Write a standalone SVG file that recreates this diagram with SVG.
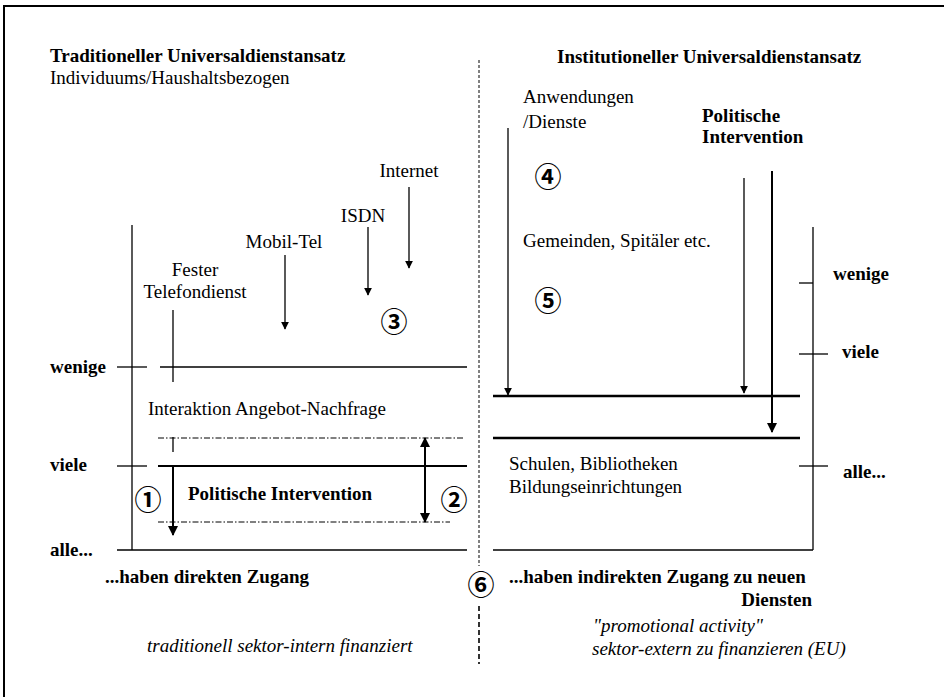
<svg xmlns="http://www.w3.org/2000/svg" width="944" height="697" viewBox="0 0 944 697">
<defs>
<marker id="ah" viewBox="0 0 10 10" refX="9" refY="5" markerWidth="8" markerHeight="8" markerUnits="userSpaceOnUse" orient="auto-start-reverse">
<path d="M0,0 L10,5 L0,10 z" fill="#000"/>
</marker>
<marker id="ahb" viewBox="0 0 10 10" refX="9" refY="5" markerWidth="10" markerHeight="10" markerUnits="userSpaceOnUse" orient="auto-start-reverse">
<path d="M0,0 L10,5 L0,10 z" fill="#000"/>
</marker>
</defs>
<style>
text{font-family:"Liberation Serif","Times New Roman",serif;font-size:19px;fill:#000}
.b{font-weight:bold}
.i{font-style:italic}
.num{font-family:"Noto Sans CJK JP","DejaVu Sans",sans-serif;font-size:27px;font-weight:bold;text-anchor:middle;dominant-baseline:central}
.ln{stroke:#000;stroke-width:1.3;fill:none}
.thick{stroke:#000;stroke-width:2.6;fill:none}
.mid{stroke:#000;stroke-width:1.8;fill:none}
.dd{stroke:#000;stroke-width:1;fill:none;stroke-dasharray:6 2 1.5 2}
.dv{stroke:#000;stroke-width:1;fill:none;stroke-dasharray:3 2}
.dv2{stroke:#000;stroke-width:1.6;fill:none;stroke-dasharray:5 3}
.arr{stroke:#000;stroke-width:1.3;fill:none;marker-end:url(#ah)}
.arrb{stroke:#000;stroke-width:2;fill:none;marker-end:url(#ahb)}
</style>
<rect width="944" height="697" fill="#fff"/>
<g id="frame">
<path class="ln" d="M4,697 V6 H944" style="stroke-width:2"/>
</g>
<g id="divider">
<line class="dv" x1="479" y1="60" x2="479" y2="566"/>
<line class="dv2" x1="479" y1="606" x2="479" y2="664"/>
</g>
<g id="titles">
<text class="b" x="50" y="62">Traditioneller Universaldienstansatz</text>
<text x="50" y="84">Individuums/Haushaltsbezogen</text>
<text class="b" x="557" y="63">Institutioneller Universaldienstansatz</text>
</g>
<g id="left-scale">
<line class="ln" x1="132" y1="225" x2="132" y2="550"/>
<line class="ln" x1="117" y1="367" x2="147" y2="367"/>
<line class="ln" x1="117" y1="466" x2="147" y2="466"/>
<line class="ln" x1="117" y1="550" x2="467" y2="550" style="stroke-width:1.6"/>
<line class="ln" x1="160" y1="367" x2="467" y2="367"/>
<line class="mid" x1="158" y1="466" x2="467" y2="466"/>
<line class="dd" x1="158" y1="438" x2="463" y2="438"/>
<line class="dd" x1="158" y1="522" x2="450" y2="522"/>
<text class="b" x="50" y="373">wenige</text>
<text class="b" x="50" y="471">viele</text>
<text class="b" x="50" y="556">alle...</text>
</g>
<g id="services-left">
<text x="409" y="177" text-anchor="middle">Internet</text>
<text x="363" y="222" text-anchor="middle">ISDN</text>
<text x="284" y="248" text-anchor="middle">Mobil-Tel</text>
<text x="195" y="276" text-anchor="middle">Fester</text>
<text x="195" y="298" text-anchor="middle">Telefondienst</text>
<text x="148" y="415">Interaktion Angebot-Nachfrage</text>
<text class="b" x="188" y="500">Politische Intervention</text>
</g>
<g id="right-scale">
<line class="ln" x1="813" y1="227" x2="813" y2="550"/>
<line class="ln" x1="799" y1="283" x2="813" y2="283"/>
<line class="ln" x1="799" y1="354" x2="828" y2="354"/>
<line class="ln" x1="799" y1="466" x2="828" y2="466"/>
<line class="thick" x1="493" y1="396" x2="800" y2="396"/>
<line class="thick" x1="493" y1="438" x2="800" y2="438"/>
<line class="ln" x1="493" y1="550" x2="813" y2="550" style="stroke-width:1.6"/>
<text class="b" x="833" y="280">wenige</text>
<text class="b" x="842" y="358">viele</text>
<text class="b" x="843" y="478">alle...</text>
</g>
<g id="services-right">
<text x="523" y="103">Anwendungen</text>
<text x="523" y="128">/Dienste</text>
<text class="b" x="702" y="122">Politische</text>
<text class="b" x="702" y="143">Intervention</text>
<text x="523" y="247">Gemeinden, Spitäler etc.</text>
<text x="509" y="470">Schulen, Bibliotheken</text>
<text x="509" y="493">Bildungseinrichtungen</text>
</g>
<g id="bottom-texts">
<text class="b" x="105" y="583">...haben direkten Zugang</text>
<text class="i" x="147" y="652">traditionell sektor-intern finanziert</text>
<text class="b" x="509" y="583">...haben indirekten Zugang zu neuen</text>
<text class="b" x="812" y="606" text-anchor="end">Diensten</text>
<text class="i" x="593" y="632">"promotional activity"</text>
<text class="i" x="592" y="655">sektor-extern zu finanzieren (EU)</text>
</g>
<g id="markers">
<text class="num" x="148" y="498">①</text>
<text class="num" x="454" y="498">②</text>
<text class="num" x="394" y="320">③</text>
<text class="num" x="548" y="175">④</text>
<text class="num" x="548" y="299">⑤</text>
<text class="num" x="481" y="583">⑥</text>
</g>
<g id="connectors">
<line class="arr" x1="409" y1="187" x2="409" y2="268"/>
<line class="arr" x1="368" y1="227" x2="368" y2="295"/>
<line class="arr" x1="285" y1="255" x2="285" y2="329"/>
<line class="ln" x1="173" y1="310" x2="173" y2="382"/>
<line class="ln" x1="173" y1="437" x2="173" y2="452"/>
<line class="arrb" x1="173" y1="466" x2="173" y2="535"/>
<line class="arrb" x1="425" y1="480" x2="425" y2="438"/>
<line class="arrb" x1="425" y1="480" x2="425" y2="522"/>
<line class="arr" x1="508" y1="128" x2="508" y2="395"/>
<line class="arr" x1="744" y1="178" x2="744" y2="393"/>
<line class="arrb" x1="772" y1="171" x2="772" y2="432"/>
</g>
</svg>
